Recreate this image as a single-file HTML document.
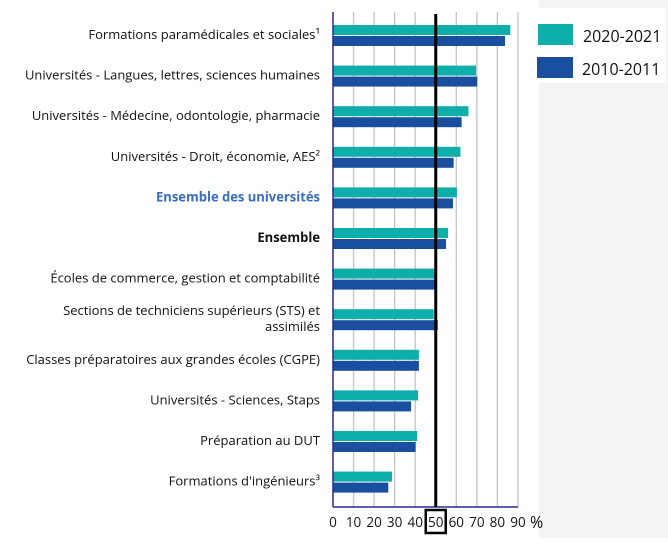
<!DOCTYPE html>
<html><head><meta charset="utf-8"><style>
body{margin:0;width:668px;height:546px;background:#fff;overflow:hidden;font-family:"Open Sans","Liberation Sans",sans-serif}
</style></head><body>
<svg id="c" width="668" height="546" xmlns="http://www.w3.org/2000/svg">
<rect x="539" y="0" width="129" height="538" fill="#f4f4f4"/>
<rect x="537" y="8" width="128" height="75" fill="#fff"/>
<rect x="538" y="24" width="35" height="21" fill="#0eaeaa"/>
<text x="583" y="42" font-size="16" fill="#111">2020-2021</text>
<rect x="537" y="57" width="36" height="21" fill="#1a4f9f"/>
<text x="582" y="75" font-size="16" fill="#111">2010-2011</text>
<g id="plot"></g>
</svg>
<script>
const categories=["Formations paramédicales et sociales¹","Universités - Langues, lettres, sciences humaines","Universités - Médecine, odontologie, pharmacie","Universités - Droit, économie, AES²","Ensemble des universités","Ensemble","Écoles de commerce, gestion et comptabilité",["Sections de techniciens supérieurs (STS) et","assimilés"],"Classes préparatoires aux grandes écoles (CGPE)","Universités - Sciences, Staps","Préparation au DUT","Formations d'ingénieurs³"];
const values2020=[86.3,69.6,65.9,62,60.3,56,50.6,49,41.8,41.4,40.9,28.7];
const values2010=[83.7,70.2,62.6,58.7,58.4,55,49.6,51,41.8,38,40.2,26.9];
const ticks=[0,10,20,30,40,50,60,70,80,90];
const NS="http://www.w3.org/2000/svg";
const g=document.getElementById('plot');
const x0=333,pxPer=2.055,yTop=12,yBottom=507,band=40.6;
const X=v=>x0+v*pxPer;
function mk(t,a){const e=document.createElementNS(NS,t);for(const k in a)e.setAttribute(k,a[k]);g.appendChild(e);return e;}
ticks.forEach(t=>{if(t>0&&t!==50){const l=mk('line',{x1:X(t),x2:X(t),y1:yTop,y2:yBottom,stroke:'#c4c4c4','stroke-width':1.3});

}
const tx=mk('text',{x:X(t),y:527,'font-size':13.5,'text-anchor':'middle',fill:'#111'});tx.textContent=t;

});
categories.forEach((c,i)=>{const y=yTop+i*band;
const b1=mk('rect',{x:x0,y:y+13,width:X(values2020[i])-x0,height:10,fill:'#0eaeaa'});


const b2=mk('rect',{x:x0,y:y+24,width:X(values2010[i])-x0,height:10,fill:'#1a4f9f'});


const lines=Array.isArray(c)?c:[c];
const col=i===4?'#3a6bc4':'#111',fw=(i===4||i===5)?'bold':'normal';
lines.forEach((s,j)=>{const t=mk('text',{x:320,y:y+27+(j-(lines.length-1)/2)*16,'font-size':13,'text-anchor':'end',fill:col,'font-weight':fw});t.textContent=s;

});});
const ax=mk('line',{x1:x0,x2:x0,y1:yTop,y2:yBottom,stroke:'#2a2a8a','stroke-width':1.5});


const bx=mk('line',{x1:x0,x2:X(90),y1:yBottom,y2:yBottom,stroke:'#2a2a8a','stroke-width':1.5});


const ref=mk('line',{x1:X(50),x2:X(50),y1:14,y2:yBottom,stroke:'#000','stroke-width':3});


const rb=mk('rect',{x:X(50)-10,y:510,width:20,height:23,fill:'none',stroke:'#000','stroke-width':2.5});


const pc=mk('text',{x:530,y:528,'font-size':16,fill:'#111'});pc.textContent='%';


</script>
</body></html>
